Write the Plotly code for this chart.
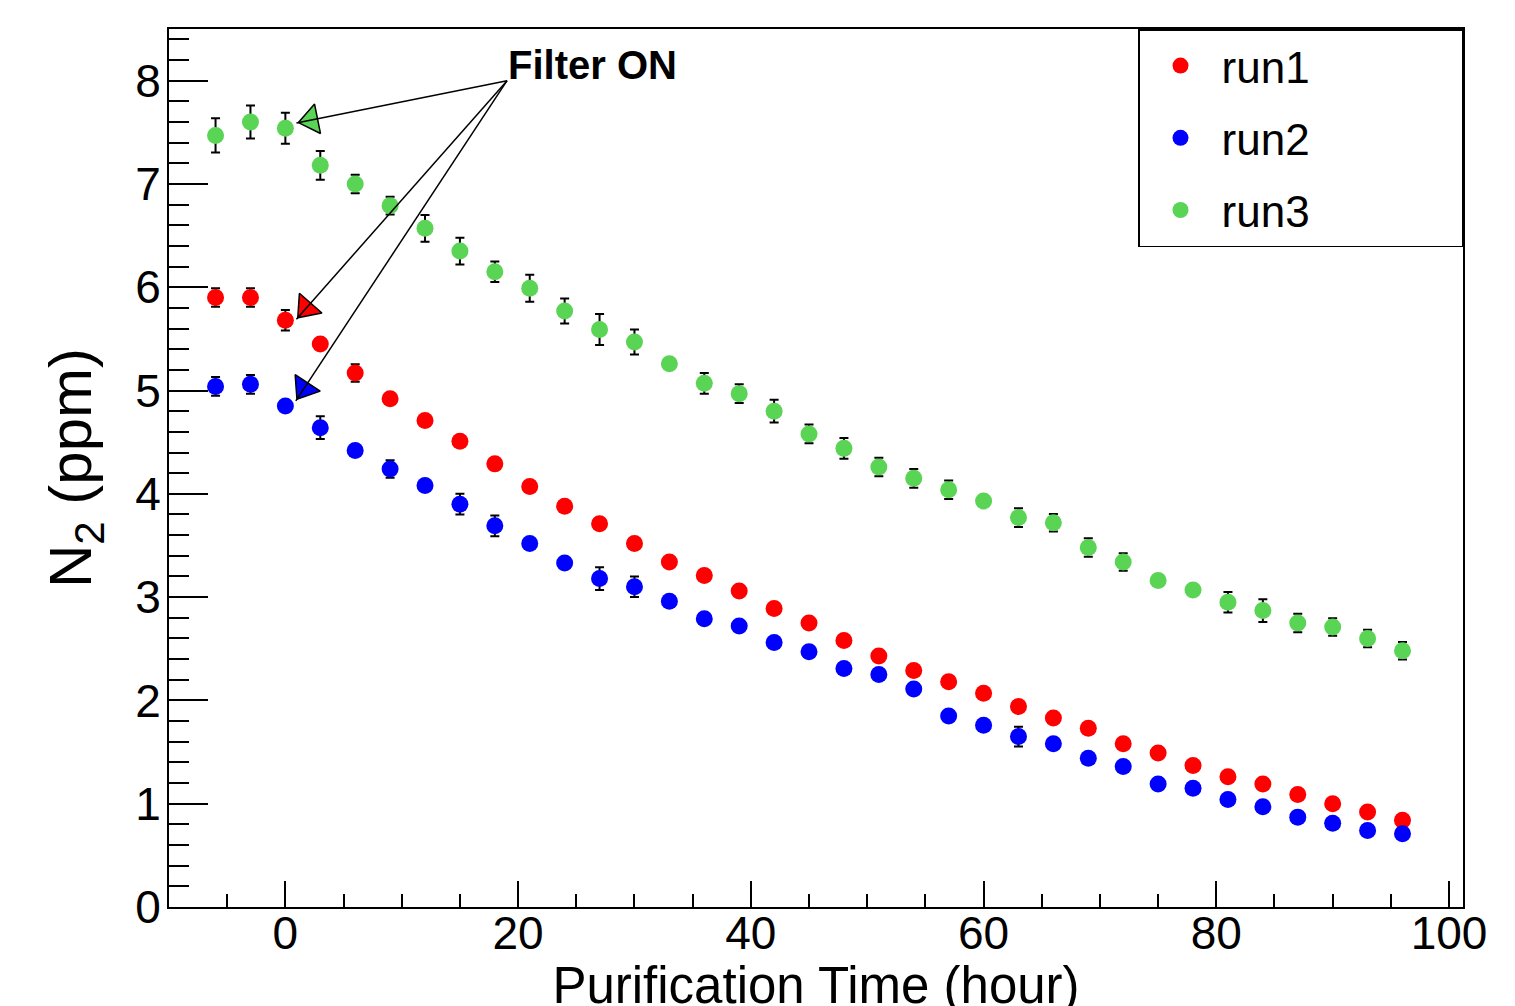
import math
import plotly.graph_objects as go

# ---------------- data ----------------
hours = [-6, -3, 0, 3, 6, 9, 12, 15, 18, 21, 24, 27, 30, 33, 36, 39, 42, 45,
         48, 51, 54, 57, 60, 63, 66, 69, 72, 75, 78, 81, 84, 87, 90, 93, 96]

run1 = [5.90, 5.90, 5.68, 5.45, 5.17, 4.92, 4.71, 4.51, 4.29, 4.07, 3.88, 3.71,
        3.52, 3.34, 3.21, 3.06, 2.89, 2.75, 2.58, 2.43, 2.29, 2.18, 2.07, 1.94,
        1.83, 1.73, 1.58, 1.49, 1.37, 1.26, 1.19, 1.09, 1.00, 0.92, 0.84]
run1_err = [0.09, 0.09, 0.10, 0.05, 0.085, 0.05, 0.05, 0.05, 0.05, 0.05, 0.05, 0.05,
            0.05, 0.05, 0.05, 0.05, 0.05, 0.05, 0.05, 0.05, 0.05, 0.05, 0.05, 0.05,
            0.05, 0.05, 0.05, 0.05, 0.05, 0.05, 0.05, 0.05, 0.05, 0.05, 0.05]

run2 = [5.04, 5.06, 4.85, 4.64, 4.42, 4.24, 4.08, 3.90, 3.69, 3.52, 3.33, 3.18,
        3.10, 2.96, 2.79, 2.72, 2.56, 2.47, 2.31, 2.25, 2.11, 1.85, 1.76, 1.65,
        1.58, 1.44, 1.36, 1.19, 1.15, 1.04, 0.97, 0.87, 0.81, 0.74, 0.71]
run2_err = [0.09, 0.09, 0.05, 0.11, 0.05, 0.085, 0.05, 0.10, 0.10, 0.05, 0.05, 0.11,
            0.10, 0.05, 0.05, 0.05, 0.05, 0.05, 0.05, 0.05, 0.05, 0.05, 0.05, 0.095,
            0.05, 0.05, 0.05, 0.05, 0.05, 0.05, 0.05, 0.05, 0.05, 0.05, 0.05]

run3 = [7.47, 7.60, 7.54, 7.18, 7.00, 6.79, 6.57, 6.35, 6.15, 5.99, 5.77, 5.59,
        5.47, 5.26, 5.07, 4.97, 4.80, 4.58, 4.44, 4.26, 4.15, 4.04, 3.93, 3.77,
        3.72, 3.48, 3.34, 3.16, 3.07, 2.95, 2.87, 2.75, 2.71, 2.60, 2.48]
run3_err = [0.165, 0.16, 0.15, 0.14, 0.09, 0.085, 0.13, 0.13, 0.10, 0.13, 0.12, 0.15,
            0.12, 0.05, 0.10, 0.09, 0.11, 0.09, 0.10, 0.09, 0.09, 0.09, 0.05, 0.09,
            0.085, 0.09, 0.085, 0.05, 0.05, 0.10, 0.11, 0.09, 0.085, 0.085, 0.085]

series_names = ["run1", "run2", "run3"]
series_values = [run1, run2, run3]
series_errors = [run1_err, run2_err, run3_err]
series_colors = ["#FF0000", "#0000FF", "#59D454"]

x_title = "Purification Time (hour)"
y_title = "N<sub>2</sub> (ppm)"

label_text = "<b>Filter ON</b>"
label_x, label_y = 19.0, 8.0
arrow_tail_x, arrow_tail_y = 19.05, 8.0
arrow_tip_x = [0.95, 0.95, 0.9]
arrow_tip_y = [7.59, 5.69, 4.90]
arrow_colors = ["#59D454", "#FF0000", "#0000FF"]

x_range = [-10.0, 101.2]
y_range = [0.0, 8.5]

# ---------------- layout geometry ----------------
W, H = 1515, 1006
OFF = 7  # page body offset compensation
ML, MR, MT, MB = 168 - OFF, 53 + OFF, 28 - OFF, 100 + OFF
plot_w = W - ML - MR
plot_h = H - MT - MB
xpx = plot_w / (x_range[1] - x_range[0])
ypx = plot_h / (y_range[1] - y_range[0])

FONT = "Liberation Sans, Arial, Helvetica, sans-serif"
NB = "\u00a0"
TH = "\u2009"

fig = go.Figure()

for name, vals, errs, col in zip(series_names, series_values, series_errors, series_colors):
    fig.add_trace(go.Scatter(
        x=hours, y=vals, name=NB + TH + name + NB * 12, mode="markers",
        legendgroup=name,
        marker=dict(color=col, size=17, line=dict(width=0)),
        error_y=dict(type="data", array=errs, visible=True,
                     color="black", thickness=2, width=4.5),
    ))

# arrows (lines) from label to the "filter on" points
for tx, ty in zip(arrow_tip_x, arrow_tip_y):
    fig.add_shape(type="line", xref="x", yref="y",
                  x0=arrow_tail_x, y0=arrow_tail_y, x1=tx, y1=ty,
                  line=dict(color="black", width=1.5), layer="above")

# arrow heads as rotated filled triangles
TRI_SIZE = 26
tip_off = 1.155 * TRI_SIZE / 2.0
cxs, cys, angs = [], [], []
for tx, ty in zip(arrow_tip_x, arrow_tip_y):
    dxp = (tx - arrow_tail_x) * xpx
    dyp = -(ty - arrow_tail_y) * ypx
    L = math.hypot(dxp, dyp)
    ux, uy = dxp / L, dyp / L
    cxs.append(tx - ux * tip_off / xpx)
    cys.append(ty + uy * tip_off / ypx)
    angs.append(math.degrees(math.atan2(-uy, -ux)))

fig.add_trace(go.Scatter(
    x=cxs, y=cys, mode="markers", showlegend=False, hoverinfo="skip",
    marker=dict(symbol="triangle-left", size=TRI_SIZE, angle=angs,
                color=arrow_colors, line=dict(color="black", width=1.5)),
))

fig.add_annotation(x=label_x, y=label_y, xref="x", yref="y",
                   text=label_text, showarrow=False,
                   xanchor="left", yanchor="bottom", yshift=-8,
                   font=dict(family=FONT, size=40, color="black"))

axis_common = dict(
    showline=True, linecolor="black", linewidth=2, mirror=True,
    showgrid=False, zeroline=False,
    ticks="inside", tickcolor="black", tickwidth=1.5,
    tickfont=dict(family=FONT, size=46, color="black"),
)

fig.update_xaxes(
    range=x_range, tickmode="linear", tick0=0, dtick=20, ticklen=26,
    ticklabelstandoff=-15,
    minor=dict(dtick=5, tick0=0, ticklen=13, ticks="inside",
               tickcolor="black", tickwidth=1.5, showgrid=False),
    title=dict(text=x_title, font=dict(family=FONT, size=51, color="black"),
               standoff=16),
    **axis_common,
)
fig.update_yaxes(
    range=y_range, tickmode="linear", tick0=0, dtick=1, ticklen=39,
    ticklabelstandoff=-3,
    minor=dict(dtick=0.2, tick0=0, ticklen=20, ticks="inside",
               tickcolor="black", tickwidth=1.5, showgrid=False),
    title=dict(text=y_title, font=dict(family=FONT, size=60, color="black"),
               standoff=24),
    **axis_common,
)

fig.update_layout(
    width=W, height=H,
    margin=dict(l=ML, r=MR, t=MT, b=MB, pad=0, autoexpand=False),
    paper_bgcolor="white", plot_bgcolor="white",
    font=dict(family=FONT, color="black"),
    legend=dict(x=1, y=1, xanchor="right", yanchor="top",
                bordercolor="black", borderwidth=1.5, bgcolor="white",
                font=dict(family=FONT, size=44, color="black"),
                tracegroupgap=12, indentation=21),
)

fig.write_html("out.html")
